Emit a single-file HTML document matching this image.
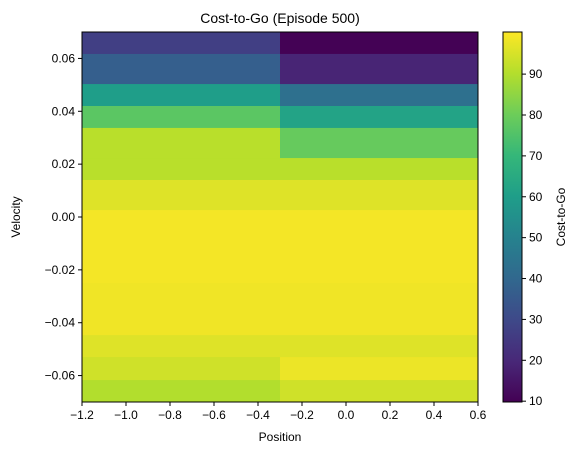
<!DOCTYPE html>
<html><head><meta charset="utf-8"><style>
body{margin:0;background:#fff;}
svg{font-family:"Liberation Sans","DejaVu Sans",sans-serif;}
</style></head><body>
<svg id="chart" width="578" height="455" xmlns="http://www.w3.org/2000/svg">
<rect width="578" height="455" fill="#fff"/>
<text x="280" y="23" font-size="14" text-anchor="middle">Cost-to-Go (Episode 500)</text>
<g id="cells"></g>
<g id="axes"></g>
<g id="cbar"></g>
</svg>
<script>
// Data
const positionEdges = [-1.2, -0.3, 0.6];
const velocityEdges = [0.07, 0.0617, 0.0503, 0.0420, 0.0337, 0.0223, 0.0140, 0.0026, -0.0057, -0.0137, -0.0250, -0.0337, -0.0447, -0.0530, -0.0617, -0.07];
const costLeft  = [27, 37, 60, 77, 91, 91, 96, 99, 99, 99, 98.5, 98.5, 96, 94, 90];
const costRight = [10, 19, 43, 62, 79, 91, 96, 99, 99, 99, 98.5, 98.5, 96, 98, 94];
const xTicks = [-1.2, -1.0, -0.8, -0.6, -0.4, -0.2, 0.0, 0.2, 0.4, 0.6];
const yTicks = [-0.06, -0.04, -0.02, 0.00, 0.02, 0.04, 0.06];
const cbarTicks = [10, 20, 30, 40, 50, 60, 70, 80, 90];
const vmin = 9.8, vmax = 100.3;

const L=82,R=478,T=32,B=402;
const sx = v => L + (v - (-1.2)) / 1.8 * (R - L);
const sy = v => T + (0.07 - v) / 0.14 * (B - T);
const CBL=503, CBR=522;
const cy = v => B - (v - vmin) / (vmax - vmin) * (B - T);

const vir=[[68,1,84],[72,40,120],[62,73,137],[49,104,142],[38,130,142],[31,158,137],[53,183,121],[109,205,89],[180,222,44],[253,231,37]];
function viridis(t){t=Math.max(0,Math.min(1,t));const f=t*9,i=Math.min(8,Math.floor(f)),r=f-i;const a=vir[i],b=vir[i+1];
return 'rgb('+a.map((c,k)=>Math.round(c+(b[k]-c)*r)).join(',')+')';}
const NS='http://www.w3.org/2000/svg';
function mk(tag,attrs,parent){const e=document.createElementNS(NS,tag);for(const k in attrs)e.setAttribute(k,attrs[k]);parent.appendChild(e);return e;}

const cells=document.getElementById('cells');
const series=[costLeft,costRight];
for(let c=0;c<2;c++){for(let r=0;r<velocityEdges.length-1;r++){
  const x0=sx(positionEdges[c]),x1=sx(positionEdges[c+1]);
  const y0=sy(velocityEdges[r]),y1=sy(velocityEdges[r+1]);
  const rc=mk('rect',{x:x0,y:y0,width:x1-x0+0.5,height:y1-y0+0.5,fill:viridis((series[c][r]-vmin)/(vmax-vmin))},cells);
  
  
}}

const axes=document.getElementById('axes');
const fr=mk('rect',{x:L,y:T,width:R-L,height:B-T,fill:'none',stroke:'#000','stroke-width':1},axes);


xTicks.forEach(v=>{const x=sx(v);
  mk('line',{x1:x,x2:x,y1:B,y2:B+4,stroke:'#000'},axes);
  const t=mk('text',{x:x,y:B+17,'font-size':12,'text-anchor':'middle'},axes);
  t.textContent=(v<0?'\u2212':'')+Math.abs(v).toFixed(1);
  
  
});
yTicks.forEach(v=>{const y=sy(v);
  mk('line',{x1:L-4,x2:L,y1:y,y2:y,stroke:'#000'},axes);
  const t=mk('text',{x:L-7,y:y+4,'font-size':12,'text-anchor':'end'},axes);
  t.textContent=(v<0?'\u2212':'')+Math.abs(v).toFixed(2);
  
  
});
const xl=mk('text',{x:280,y:441,'font-size':12,'text-anchor':'middle'},axes);xl.textContent='Position';


const yl=mk('text',{x:20,y:217,'font-size':12,'text-anchor':'middle',transform:'rotate(-90 20 217)'},axes);yl.textContent='Velocity';



const cb=document.getElementById('cbar');
const defs=mk('defs',{},cb);const g=mk('linearGradient',{id:'vg',x1:0,y1:1,x2:0,y2:0},defs);
for(let i=0;i<=9;i++)mk('stop',{offset:i/9,'stop-color':viridis(i/9)},g);
const cr=mk('rect',{x:CBL,y:T,width:CBR-CBL,height:B-T,fill:'url(#vg)',stroke:'#000','stroke-width':1},cb);


cbarTicks.forEach(v=>{const y=cy(v);
  mk('line',{x1:CBR,x2:CBR+4,y1:y,y2:y,stroke:'#000'},cb);
  const t=mk('text',{x:CBR+7,y:y+4,'font-size':12},cb);t.textContent=v;
  
  
});
const cl=mk('text',{x:565,y:217,'font-size':12,'text-anchor':'middle',transform:'rotate(-90 565 217)'},cb);cl.textContent='Cost-to-Go';


</script>
</body></html>
